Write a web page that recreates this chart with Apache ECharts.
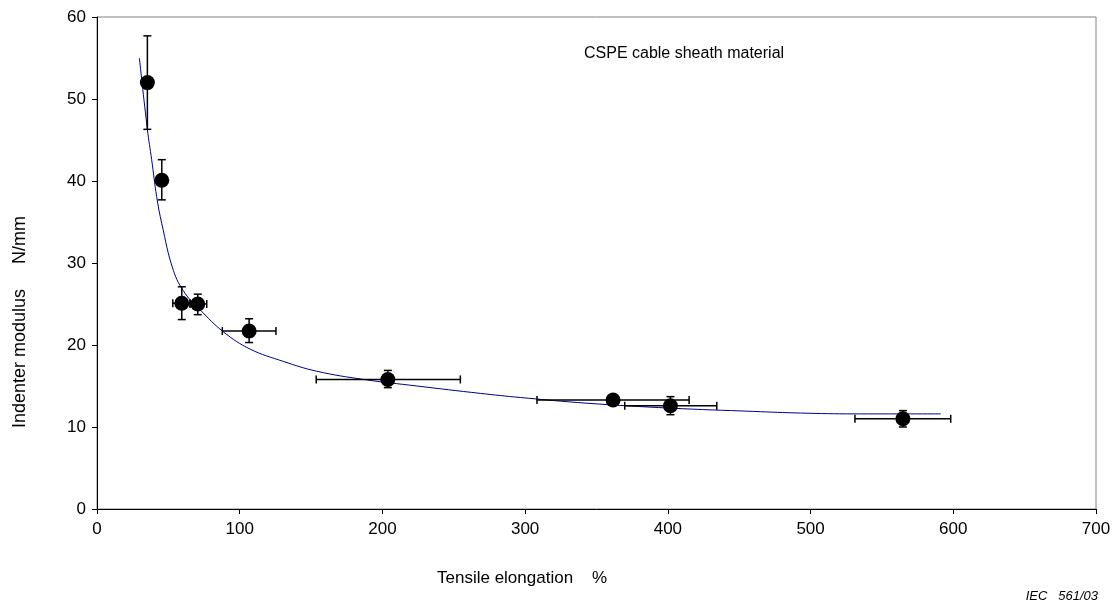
<!DOCTYPE html>
<html><head><meta charset="utf-8">
<script src="https://cdn.jsdelivr.net/npm/echarts@6/dist/echarts.min.js"></script>
<style>html,body{margin:0;padding:0;background:#fff}#c{width:1117px;height:612px}</style>
</head><body><div id="c"></div>
<script>
const xTicks = [0, 100, 200, 300, 400, 500, 600, 700];
const yTicks = [0, 10, 20, 30, 40, 50, 60];
const elong = [35.3, 45.4, 59.4, 70.6, 106.6, 203.8, 361.6, 401.8, 564.7];
const modulus = [52.0, 40.1, 25.1, 25.0, 21.7, 15.8, 13.3, 12.6, 11.0];
const modLow = [46.3, 37.7, 23.1, 23.7, 20.3, 14.8, 12.9, 11.5, 10.0];
const modHigh = [57.7, 42.6, 27.1, 26.2, 23.2, 16.9, 13.6, 13.7, 12.0];
const elongLow = [null, null, 53.1, 65.2, 87.8, 153.6, 308.3, 369.8, 531.1];
const elongHigh = [null, null, 65.2, 76.9, 125.4, 254.6, 414.9, 434.3, 598.2];
const curveX = [29.7, 35.3, 38.3, 41.8, 45.4, 53.5, 61.7, 72.2, 88.6, 107.3, 130.6, 154, 186.8, 224.2, 268.6, 296.6, 343.4, 401.8, 460.2, 493, 530.4, 591.2];
const curveY = [55.0, 46.3, 42.6, 38.1, 34.8, 29.1, 26.3, 24.3, 21.6, 19.5, 18.0, 16.8, 15.8, 15.0, 14.1, 13.6, 12.9, 12.3, 11.9, 11.7, 11.6, 11.6];

const FONT = '"Liberation Sans", Arial, sans-serif';
const chart = echarts.init(document.getElementById('c'), null, {renderer: 'canvas'});

const errData = elong.map((x, i) => [x, modulus[i], modLow[i], modHigh[i],
  elongLow[i] == null ? NaN : elongLow[i], elongHigh[i] == null ? NaN : elongHigh[i]]);

function renderErr(params, api) {
  const x = api.value(0), y = api.value(1);
  const yl = api.value(2), yh = api.value(3);
  const xl = api.value(4), xh = api.value(5);
  const children = [];
  const st = {stroke: '#000', lineWidth: 1.5};
  const cap = 4;
  const pLo = api.coord([x, yl]), pHi = api.coord([x, yh]);
  children.push({type: 'line', shape: {x1: pLo[0], y1: pLo[1], x2: pHi[0], y2: pHi[1]}, style: st});
  children.push({type: 'line', shape: {x1: pLo[0] - cap, y1: pLo[1], x2: pLo[0] + cap, y2: pLo[1]}, style: st});
  children.push({type: 'line', shape: {x1: pHi[0] - cap, y1: pHi[1], x2: pHi[0] + cap, y2: pHi[1]}, style: st});
  if (!isNaN(xl) && !isNaN(xh)) {
    const qL = api.coord([xl, y]), qH = api.coord([xh, y]);
    children.push({type: 'line', shape: {x1: qL[0], y1: qL[1], x2: qH[0], y2: qH[1]}, style: st});
    children.push({type: 'line', shape: {x1: qL[0], y1: qL[1] - cap, x2: qL[0], y2: qL[1] + cap}, style: st});
    children.push({type: 'line', shape: {x1: qH[0], y1: qH[1] - cap, x2: qH[0], y2: qH[1] + cap}, style: st});
  }
  return {type: 'group', children};
}

const option = {
  animation: false,
  backgroundColor: '#fff',
  textStyle: {fontFamily: FONT},
  grid: {left: 97, right: 21, top: 17, bottom: 103, show: true, borderColor: '#808080', borderWidth: 1, backgroundColor: 'transparent'},
  xAxis: {
    type: 'value', min: xTicks[0], max: xTicks[xTicks.length - 1], interval: 100,
    axisLine: {show: true, onZero: false, lineStyle: {color: '#000', width: 1}},
    axisTick: {show: true, length: 5, lineStyle: {color: '#000'}},
    axisLabel: {color: '#000', fontSize: 17, fontFamily: FONT, margin: 12},
    splitLine: {show: false}
  },
  yAxis: {
    type: 'value', min: yTicks[0], max: yTicks[yTicks.length - 1], interval: 10,
    axisLine: {show: true, onZero: false, lineStyle: {color: '#000', width: 1}},
    axisTick: {show: true, length: 5, lineStyle: {color: '#000'}},
    axisLabel: {color: '#000', fontSize: 17, fontFamily: FONT, margin: 11},
    splitLine: {show: false}
  },
  series: [
    {
      type: 'line', data: curveX.map((x, i) => [x, curveY[i]]), smooth: 0.4,
      symbol: 'none', lineStyle: {color: '#00008B', width: 1}, z: 2
    },
    {
      type: 'custom', data: errData, renderItem: renderErr, z: 3,
      encode: {x: 0, y: 1}
    },
    {
      type: 'scatter', data: elong.map((x, i) => [x, modulus[i]]), symbol: 'circle', symbolSize: 15,
      itemStyle: {color: '#000', opacity: 1}, z: 4
    }
  ],
  graphic: [
    {type: 'text', left: 584, top: 46, style: {text: 'CSPE cable sheath material', font: '16px ' + FONT, fill: '#000'}},
    {type: 'text', left: 437, top: 570, style: {text: 'Tensile elongation    %', font: '17px ' + FONT, fill: '#000'}},
    {type: 'text', right: 19, top: 590, style: {text: 'IEC   561/03', font: 'italic 13px ' + FONT, fill: '#000'}},
    {type: 'text', x: 20, y: 322, rotation: Math.PI / 2, style: {text: 'Indenter modulus     N/mm', font: '18px ' + FONT, fill: '#000', align: 'center', verticalAlign: 'middle'}}
  ]
};
chart.setOption(option);
</script></body></html>
